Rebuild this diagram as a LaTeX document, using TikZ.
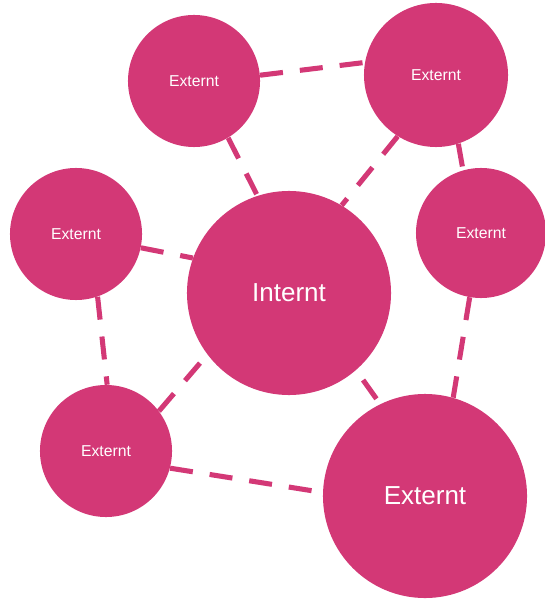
\documentclass[tikz,border=0pt]{standalone}
\usepackage{fontspec}
\setmainfont{Liberation Sans}
\definecolor{rosa}{HTML}{D33876}
\tikzset{
  kreis/.style={circle, fill=rosa, text=white, inner sep=0pt, minimum size=#1},
  klein/.style={kreis=3.3cm, font=\fontsize{11.2}{13}\selectfont},
  gross/.style={kreis=5.1cm, font=\fontsize{18.5}{22}\selectfont},
  verbindung/.style={draw=rosa, line width=3.6pt, dash pattern=on 16.4pt off 12.1pt}
}
\begin{document}
\begin{tikzpicture}[x=0.025cm, y=-0.025cm]
    \useasboundingbox (0,0) rectangle (544,602);

    \node[gross] (intern) at (289,293) {Internt};
    \node[klein] (obenlinks) at (194,81) {Externt};
    \node[klein, minimum size=3.6cm] (obenrechts) at (436,75) {Externt};
    \node[klein, minimum size=3.25cm] (rechts) at (481,233) {Externt};
    \node[klein] (links) at (76,234) {Externt};
    \node[klein] (untenlinks) at (106,451) {Externt};
    \node[gross] (untenrechts) at (425,496) {Externt};

    % Verbindungen
    \foreach \a/\b in {obenlinks.-59/intern.108, obenlinks.5/obenrechts.170,
        obenrechts.-122/intern.59, obenrechts.-72/rechts.106,
        rechts.-100/untenrechts.74, links.-12/intern.160,
        links.-71/untenlinks.89, untenlinks.37/intern.-143,
        untenlinks.-15/untenrechts.178}
    {
        \draw[verbindung] (\a) -- (\b);
    }
    \draw[verbindung, shorten <=0.3cm] (intern.-49) -- (untenrechts.116);
\end{tikzpicture}
\end{document}
